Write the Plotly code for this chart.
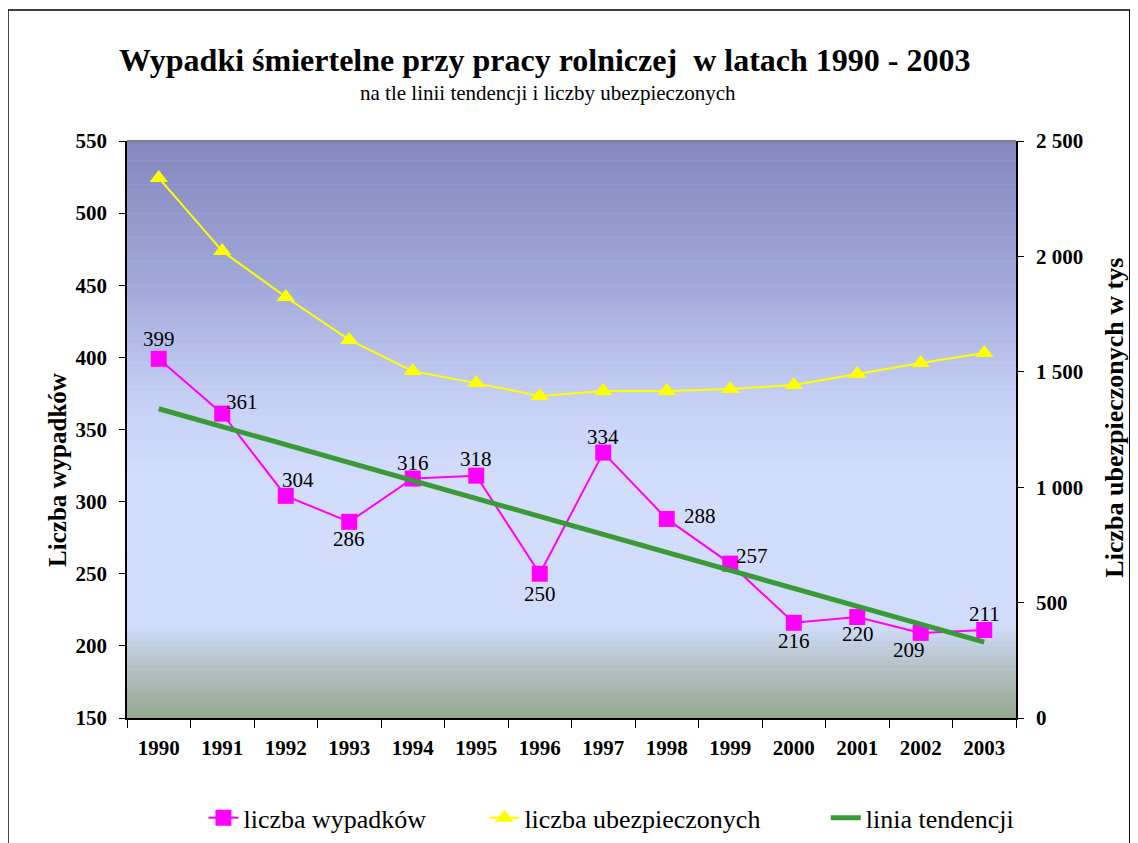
import plotly.graph_objects as go

years = ["1990", "1991", "1992", "1993", "1994", "1995", "1996",
         "1997", "1998", "1999", "2000", "2001", "2002", "2003"]
wypadki = [399, 361, 304, 286, 316, 318, 250, 334, 288, 257, 216, 220, 209, 211]
ubezpieczeni = [2340, 2023, 1824, 1638, 1503, 1451, 1395,
                1417, 1417, 1425, 1443, 1490, 1538, 1581]
trend_years = ["1990", "2003"]
trend_values = [364.4, 202.6]

# pixel offsets of the value labels relative to their markers
label_dx = [0, 20, 12, 0, 0, 0, 0, 0, 33, 22, 0, 1, -12, 0]
label_dy = [20, 12, 16, -17, 16, 17, -20, 16, 3, 8, -18, -17, -17, 16]

SERIF = "Liberation Serif"

fig = go.Figure()

fig.add_trace(go.Scatter(
    x=years, y=wypadki, name="liczba wypadków", legend="legend",
    mode="lines+markers",
    line=dict(color="#FF00FF", width=2),
    marker=dict(symbol="square", size=16, color="#FF00FF"),
))
fig.add_trace(go.Scatter(
    x=years, y=ubezpieczeni, name="liczba ubezpieczonych", legend="legend2",
    mode="lines+markers", yaxis="y2",
    line=dict(color="#FFFF00", width=2),
    marker=dict(symbol="triangle-up", size=16, color="#FFFF00"),
))
fig.add_trace(go.Scatter(
    x=trend_years, y=trend_values, name="linia tendencji", legend="legend3",
    mode="lines", line=dict(color="#3A9A35", width=5),
))

# gradient plot background built from thin strips
stops = [(0.0, (0x83, 0x87, 0xBF)), (0.25, (0xA2, 0xA9, 0xDA)),
         (0.45, (0xC6, 0xD0, 0xF5)), (0.58, (0xD2, 0xDD, 0xFC)),
         (0.84, (0xD0, 0xDC, 0xFA)), (0.90, (0xB8, 0xC5, 0xCE)),
         (1.0, (0x94, 0xA8, 0x8C))]

def grad(t):
    for (a, ca), (b, cb) in zip(stops[:-1], stops[1:]):
        if a <= t <= b:
            f = (t - a) / (b - a)
            c = [round(ca[i] + (cb[i] - ca[i]) * f) for i in range(3)]
            return "rgb(%d,%d,%d)" % tuple(c)
    return "rgb(148,168,140)"

shapes = []
n = 120
for i in range(n):
    t = (i + 0.5) / n
    shapes.append(dict(type="rect", xref="paper", yref="paper", layer="below",
                       x0=0, x1=1, y0=1 - (i + 1) / n - 0.001, y1=1 - i / n,
                       fillcolor=grad(t), line=dict(width=0)))
# top frame line of plot area
shapes.append(dict(type="line", xref="paper", yref="paper", x0=0, x1=1, y0=1, y1=1,
                   line=dict(color="#808080", width=2)))
# outer chart border
shapes.append(dict(type="rect", xref="paper", yref="paper",
                   x0=-0.1339, x1=1.128, y0=-0.4, y1=1.227,
                   line=dict(color="black", width=1.5), fillcolor="rgba(0,0,0,0)"))

annotations = [
    dict(text="<b>Wypadki śmiertelne przy pracy rolniczej \u00a0w latach 1990 - 2003</b>",
         x=0.470, y=1.140, font=dict(family=SERIF, size=32, color="black")),
    dict(text="na tle linii tendencji i liczby ubezpieczonych",
         x=0.474, y=1.083, font=dict(family=SERIF, size=21, color="black")),
    dict(text="<b>Liczba wypadków</b>", textangle=-90,
         x=-0.0776, y=0.43, font=dict(family=SERIF, size=25, color="black")),
    dict(text="<b>Liczba ubezpieczonych w tys</b>", textangle=-90,
         x=1.111, y=0.52, font=dict(family=SERIF, size=26, color="black")),
]
for a in annotations:
    a.update(xref="paper", yref="paper", showarrow=False,
             xanchor="center", yanchor="middle")

for i, (v, dx, dy) in enumerate(zip(wypadki, label_dx, label_dy)):
    annotations.append(dict(text=str(v), x=i, y=v, xref="x", yref="y",
                            showarrow=False, xshift=dx, yshift=dy,
                            xanchor="center", yanchor="middle",
                            font=dict(family=SERIF, size=21, color="black")))

tick_font = dict(family=SERIF, size=21, color="black", weight="bold")
legend_font = dict(family=SERIF, size=26, color="black")
leg = dict(orientation="h", xanchor="left", y=-0.173, yanchor="middle",
           font=legend_font, bgcolor="rgba(0,0,0,0)")

fig.update_layout(
    width=1138, height=843,
    # the page body adds an 8px offset, so margins are shifted by 8px
    margin=dict(l=119, r=130, t=133, b=133, autoexpand=False),
    paper_bgcolor="white", plot_bgcolor="white",
    separators=", ",
    font=dict(family=SERIF, color="black"),
    shapes=shapes, annotations=annotations,
    showlegend=True,
    legend=dict(leg, x=0.086),
    legend2=dict(leg, x=0.402),
    legend3=dict(leg, x=0.786),
    xaxis=dict(type="category", range=[-0.5, 13.5], showgrid=False, showline=True,
               linecolor="black", linewidth=1.5, ticks="outside", ticklen=8,
               tickcolor="black", tickson="boundaries", ticklabelstandoff=10,
               tickfont=tick_font),
    yaxis=dict(range=[150, 550], dtick=50, showgrid=False, zeroline=False,
               showline=True, linecolor="black", linewidth=1.5, ticks="outside",
               ticklen=6, tickcolor="black", ticklabelstandoff=8, tickfont=tick_font),
    yaxis2=dict(range=[0, 2500], dtick=500, overlaying="y", side="right",
                showgrid=False, zeroline=False, showline=True, linecolor="black",
                linewidth=1.5, ticks="outside", ticklen=6, tickcolor="black",
                tickformat=",d", ticklabelstandoff=8, tickfont=tick_font),
)

fig.write_html("out.html")
